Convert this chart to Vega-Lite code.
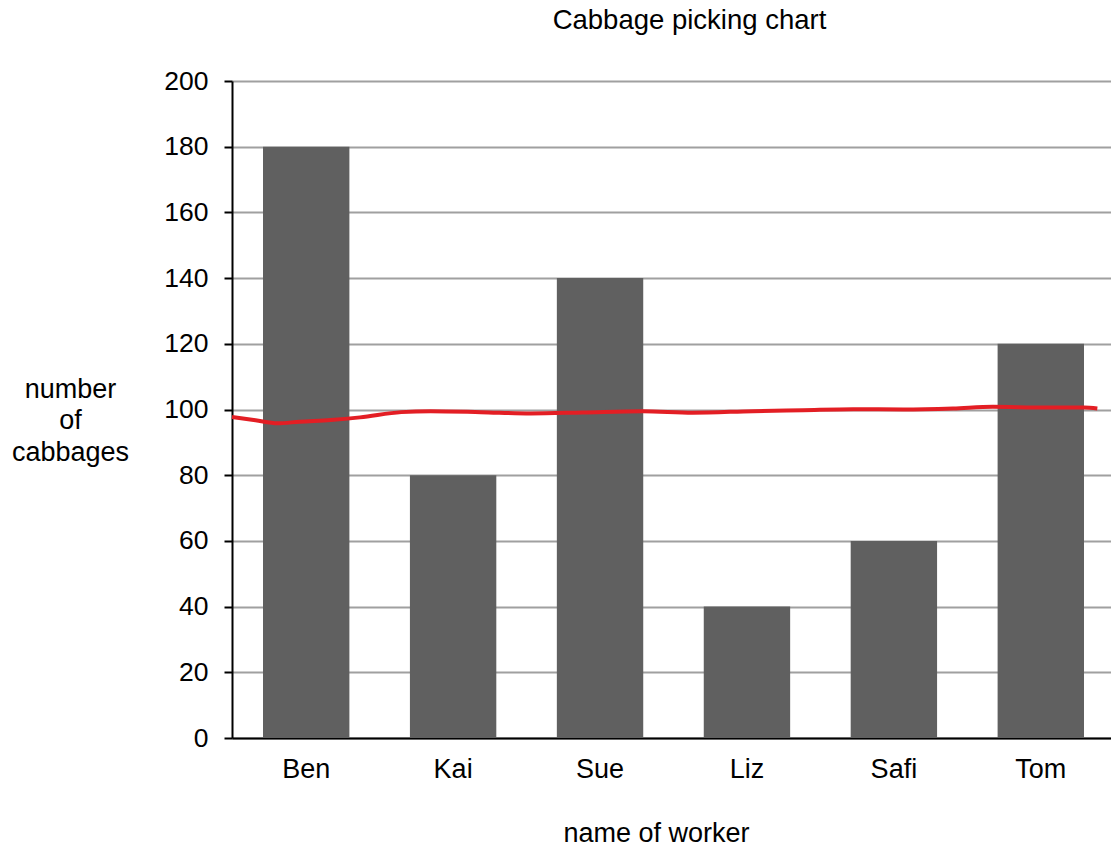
{
  "$schema": "https://vega.github.io/schema/vega-lite/v6.json",
  "autosize": "none",
  "width": 883,
  "height": 657,
  "padding": {"left": 232, "top": 81, "right": 0, "bottom": 113},
  "background": "white",
  "title": {
    "text": "Cabbage picking chart",
    "anchor": "middle",
    "dx": 16,
    "offset": 34,
    "font": "Liberation Sans",
    "fontSize": 27.5,
    "fontWeight": "normal",
    "color": "#000000"
  },
  "config": {
    "view": {"stroke": null},
    "font": "Liberation Sans"
  },
  "datasets": {
    "bars": [
      {"worker": "Ben", "cabbages": 180},
      {"worker": "Kai", "cabbages": 80},
      {"worker": "Sue", "cabbages": 140},
      {"worker": "Liz", "cabbages": 40},
      {"worker": "Safi", "cabbages": 60},
      {"worker": "Tom", "cabbages": 120}
    ],
    "line": [
      {"pos": 0.0, "value": 97.7},
      {"pos": 0.16, "value": 96.7},
      {"pos": 0.31, "value": 95.8},
      {"pos": 0.46, "value": 96.3},
      {"pos": 0.67, "value": 96.8},
      {"pos": 0.87, "value": 97.6},
      {"pos": 1.15, "value": 99.2},
      {"pos": 1.35, "value": 99.5},
      {"pos": 1.69, "value": 99.2},
      {"pos": 2.03, "value": 98.8},
      {"pos": 2.38, "value": 99.1},
      {"pos": 2.79, "value": 99.5},
      {"pos": 3.13, "value": 99.0},
      {"pos": 3.54, "value": 99.5},
      {"pos": 3.88, "value": 99.8},
      {"pos": 4.22, "value": 100.1},
      {"pos": 4.56, "value": 100.0},
      {"pos": 4.9, "value": 100.3},
      {"pos": 5.17, "value": 100.8},
      {"pos": 5.52, "value": 100.6},
      {"pos": 5.79, "value": 100.6},
      {"pos": 5.88, "value": 100.3}
    ]
  },
  "layer": [
    {
      "data": {"name": "bars"},
      "mark": {"type": "bar", "color": "#606060"},
      "encoding": {
        "x": {
          "field": "worker",
          "type": "nominal",
          "sort": null,
          "scale": {"paddingInner": 0.412, "paddingOuter": 0.211},
          "axis": {
            "title": "name of worker",
            "titleFont": "Liberation Sans",
            "titleFontSize": 27,
            "titleFontWeight": "normal",
            "titleColor": "#000000",
            "titleBaseline": "alphabetic",
            "titleY": 103,
            "titleX": 424,
            "labelAngle": 0,
            "labelFont": "Liberation Sans",
            "labelFontSize": 27,
            "labelColor": "#000000",
            "labelPadding": 18,
            "ticks": false,
            "domainColor": "#000000",
            "domainWidth": 2,
            "grid": false
          }
        },
        "y": {
          "field": "cabbages",
          "type": "quantitative",
          "scale": {"domain": [0, 200], "nice": false},
          "axis": {
            "values": [0, 20, 40, 60, 80, 100, 120, 140, 160, 180, 200],
            "title": ["number", "of", "cabbages"],
            "titleAngle": 0,
            "titleAlign": "center",
            "titleBaseline": "top",
            "titleX": -162,
            "titleY": 295,
            "titleLineHeight": 31.5,
            "titleFont": "Liberation Sans",
            "titleFontSize": 27,
            "titleFontWeight": "normal",
            "titleColor": "#000000",
            "labelFont": "Liberation Sans",
            "labelFontSize": 26.5,
            "labelColor": "#000000",
            "labelPadding": 16,
            "tickSize": 8,
            "tickColor": "#000000",
            "tickWidth": 2,
            "domainColor": "#000000",
            "domainWidth": 2,
            "grid": true,
            "gridColor": "#a0a0a0",
            "gridWidth": 2
          }
        }
      }
    },
    {
      "data": {"name": "line"},
      "mark": {"type": "line", "color": "#e31e24", "strokeWidth": 4, "interpolate": "monotone"},
      "encoding": {
        "x": {
          "field": "pos",
          "type": "quantitative",
          "scale": {"domain": [0, 6], "nice": false, "zero": false},
          "axis": null
        },
        "y": {
          "field": "value",
          "type": "quantitative"
        }
      }
    }
  ],
  "resolve": {"scale": {"x": "independent"}}
}
